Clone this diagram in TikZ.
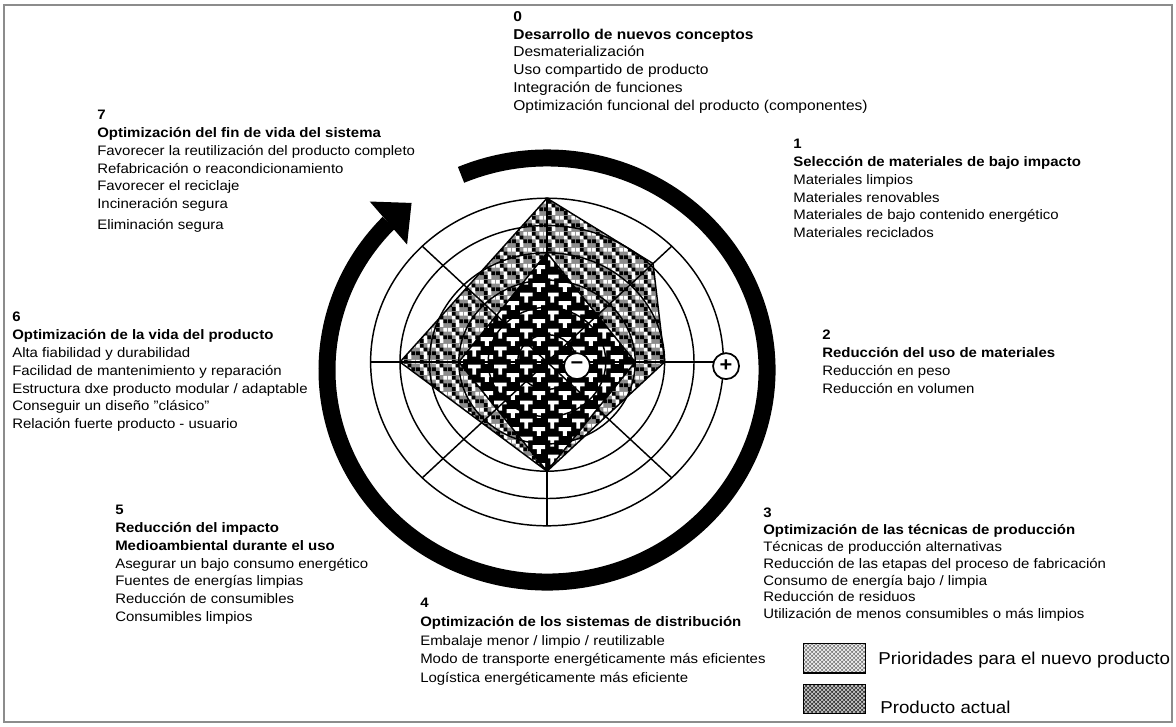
\documentclass[tikz,border=0pt]{standalone}
\usepackage{fontspec}
\setmainfont{Liberation Sans}[FakeStretch=1.09]
\usetikzlibrary{patterns, arrows.meta, bending, positioning}

% T-shaped texture for the current product
\pgfdeclarepatternformonly{tees}{\pgfqpoint{0pt}{0pt}}{\pgfqpoint{19.5pt}{13.65pt}}{\pgfqpoint{19.5pt}{13.65pt}}{%
  \pgfpathrectangle{\pgfqpoint{0pt}{10.7pt}}{\pgfqpoint{9.75pt}{2.95pt}}%
  \pgfpathrectangle{\pgfqpoint{3.4pt}{5.85pt}}{\pgfqpoint{2.95pt}{4.85pt}}%
  \pgfpathrectangle{\pgfqpoint{9.75pt}{3.9pt}}{\pgfqpoint{9.75pt}{2.95pt}}%
  \pgfpathrectangle{\pgfqpoint{13.15pt}{0pt}}{\pgfqpoint{2.95pt}{3.9pt}}%
  \pgfusepath{fill}}
% checker texture for the new priorities
\pgfdeclarepatternformonly{checkwhite}{\pgfqpoint{0pt}{0pt}}{\pgfqpoint{12pt}{12pt}}{\pgfqpoint{12pt}{12pt}}{%
  \pgfpathrectangle{\pgfqpoint{0pt}{9pt}}{\pgfqpoint{3pt}{3pt}}%
  \pgfpathrectangle{\pgfqpoint{9pt}{9pt}}{\pgfqpoint{3pt}{3pt}}%
  \pgfpathrectangle{\pgfqpoint{3pt}{6pt}}{\pgfqpoint{3pt}{3pt}}%
  \pgfpathrectangle{\pgfqpoint{6pt}{3pt}}{\pgfqpoint{3pt}{3pt}}%
  \pgfpathrectangle{\pgfqpoint{6pt}{0pt}}{\pgfqpoint{3pt}{3pt}}%
  \pgfusepath{fill}}
\pgfdeclarepatternformonly{checkblack}{\pgfqpoint{0pt}{0pt}}{\pgfqpoint{12pt}{12pt}}{\pgfqpoint{12pt}{12pt}}{%
  \pgfpathrectangle{\pgfqpoint{3pt}{9pt}}{\pgfqpoint{3pt}{3pt}}%
  \pgfpathrectangle{\pgfqpoint{6pt}{6pt}}{\pgfqpoint{3pt}{3pt}}%
  \pgfpathrectangle{\pgfqpoint{0pt}{3pt}}{\pgfqpoint{3pt}{3pt}}%
  \pgfpathrectangle{\pgfqpoint{9pt}{3pt}}{\pgfqpoint{3pt}{3pt}}%
  \pgfpathrectangle{\pgfqpoint{3pt}{0pt}}{\pgfqpoint{3pt}{3pt}}%
  \pgfusepath{fill}}

\begin{document}
\begin{tikzpicture}[
    x=0.75pt, y=-0.75pt,
    txt/.style={anchor=north west, inner sep=0pt, align=left, font=\fontsize{10.3}{13.35}\selectfont},
    legtxt/.style={anchor=west, inner sep=0pt, font=\fontsize{12.9}{15}\selectfont},
    radline/.style={line width=1.1pt},
    prio/.style={preaction={fill=black!45}, preaction={pattern=checkwhite, pattern color=white}, pattern=checkblack, pattern color=black},
    actual/.style={preaction={fill=black}, pattern=tees, pattern color=white},
    signo/.style={circle, draw, fill=white, line width=1.3pt, minimum size=19.5pt, inner sep=0pt, font=\bfseries\fontsize{15}{15}\selectfont},
    legbox/.style={draw, line width=1pt, minimum width=46.5pt, minimum height=22pt, inner sep=0pt}
]
\useasboundingbox (0,0) rectangle (1176,726);
\draw[black!45, line width=2pt] (4,5) rectangle (1172,722);

% radar
\begin{scope}[shift={(547,362)}, x=22.05pt, y=20.475pt]
  \fill[prio] (90:6) -- (45:5.1) -- (0:4) -- (270:4) -- (180:5) -- cycle;
  \fill[actual] (90:4) -- (0:3) -- (270:4) -- (180:3) -- cycle;
  \draw[radline] (90:6) -- (45:5.1) -- (0:4) -- (270:4) -- (180:5) -- cycle;
  \draw[radline] (90:4) -- (0:3) -- (270:4) -- (180:3) -- cycle;
  \foreach \r in {1,...,6}
    \draw[radline] (0,0) circle[radius=\r];
  \foreach \a in {0,45,...,315}
    \draw[radline] (0,0) -- (\a:6);
  \node[signo] (menos) at (1.02,-0.15) {−};
  \node[signo] (mas) at (6.09,-0.15) {+};
\end{scope}

% circular arrow
\begin{scope}[shift={(547,370)}, x=0.75pt, y=0.75pt]
  \coordinate (inicio) at (113:220 and 212);
  \draw[line width=12.75pt, -{Triangle[flex, width=42.75pt, length=23pt, line width=0pt]}]
    (inicio) arc[start angle=113, end angle=-232, x radius=220, y radius=212];
\end{scope}

% strategies
\node[txt, font=\fontsize{10.7}{13.35}\selectfont] (g0) at (513,11) {\textbf{0}\\\textbf{Desarrollo de nuevos conceptos}\\Desmaterialización\\Uso compartido de producto\\Integración de funciones\\Optimización funcional del producto (componentes)};
\node[txt] (g1) at (793,139) {\textbf{1}\\\textbf{Selección de materiales de bajo impacto}\\Materiales limpios\\Materiales renovables\\Materiales de bajo contenido energético\\Materiales reciclados};
\node[txt] (g2) at (822,330) {\textbf{2}\\\textbf{Reducción del uso de materiales}\\Reducción en peso\\Reducción en volumen};
\node[txt, font=\fontsize{10.3}{12.6}\selectfont] (g3) at (763,508) {\textbf{3}\\\textbf{Optimización de las técnicas de producción}\\Técnicas de producción alternativas\\Reducción de las etapas del proceso de fabricación\\Consumo de energía bajo / limpia\\Reducción de residuos\\Utilización de menos consumibles o más limpios};
\node[txt, font=\fontsize{10.3}{14}\selectfont] (g4) at (420,598) {\textbf{4}\\\textbf{Optimización de los sistemas de distribución}\\Embalaje menor / limpio / reutilizable\\Modo de transporte energéticamente más eficientes\\Logística energéticamente más eficiente};
\node[txt] (g5) at (115,505) {\textbf{5}\\\textbf{Reducción del impacto}\\\textbf{Medioambiental durante el uso}\\Asegurar un bajo consumo energético\\Fuentes de energías limpias\\Reducción de consumibles\\Consumibles limpios};
\node[txt] (g6) at (12,312) {\textbf{6}\\\textbf{Optimización de la vida del producto}\\Alta fiabilidad y durabilidad\\Facilidad de mantenimiento y reparación\\Estructura dxe producto modular / adaptable\\Conseguir un diseño "clásico"\\Relación fuerte producto - usuario};
\node[txt] (g7) at (97,110) {\textbf{7}\\\textbf{Optimización del fin de vida del sistema}\\Favorecer la reutilización del producto completo\\Refabricación o reacondicionamiento\\Favorecer el reciclaje\\Incineración segura\\[2pt]Eliminación segura};

% legend
\node[legbox, anchor=north west, preaction={fill=black!50}, pattern=crosshatch, pattern color=white] (cajaprio) at (803,643) {};
\node[legbox, below=7.5pt of cajaprio, preaction={fill=black!78}, pattern=crosshatch, pattern color=white!85!black] (cajaact) {};
\node[legtxt] (txtprio) at (878,660) {Prioridades para el nuevo producto};
\node[legtxt] (txtact) at (880,707) {Producto actual};
\end{tikzpicture}
\end{document}
